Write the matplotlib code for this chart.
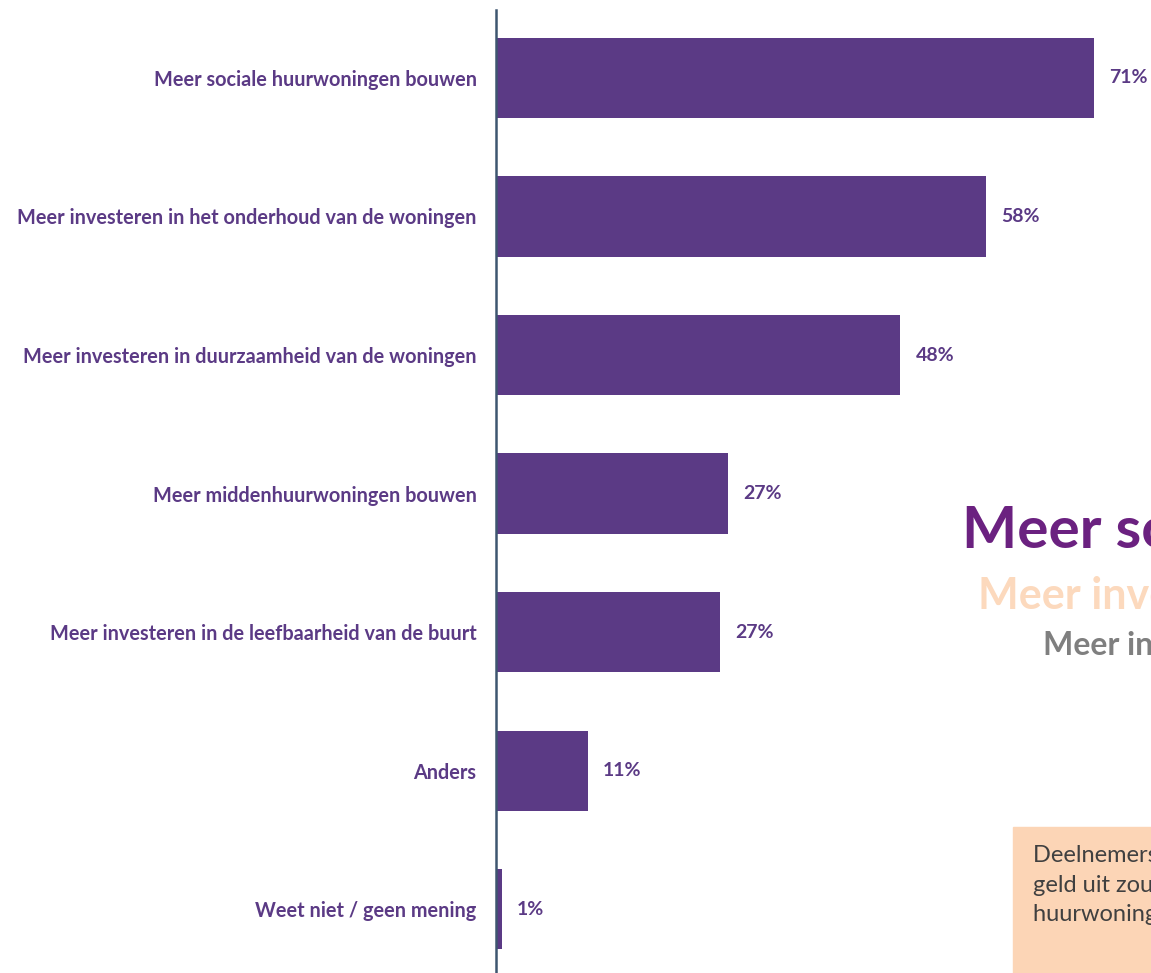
import matplotlib
matplotlib.use("Agg")
import matplotlib.pyplot as plt
from matplotlib.patches import Rectangle

categories = [
    "Meer sociale huurwoningen bouwen",
    "Meer investeren in het onderhoud van de woningen",
    "Meer investeren in duurzaamheid van de woningen",
    "Meer middenhuurwoningen bouwen",
    "Meer investeren in de leefbaarheid van de buurt",
    "Anders",
    "Weet niet / geen mening",
]
values = [71.0, 58.2, 48.0, 27.5, 26.6, 10.9, 0.7]
value_labels = ["71%", "58%", "48%", "27%", "27%", "11%", "1%"]

headline = "Meer sociale huurwoningen bouwen"
second = "Meer investeren in het onderhoud"
third = "Meer investeren in duurzaamheid"
note = ("Deelnemers vinden dat de corporatie het meeste\n"
        "geld uit zou moeten geven aan meer sociale\n"
        "huurwoningen bouwen")

BAR = "#5b3a85"
FONT = ["Lato", "DejaVu Sans"]

plt.rcParams["font.family"] = FONT

fig = plt.figure(figsize=(11.51, 9.73), dpi=100)
ax = fig.add_axes([496 / 1151, 0, 1 - 496 / 1151, 1 - 10 / 973])

pos = list(range(len(categories)))
ax.barh(pos, values, height=0.58, color=BAR, zorder=2)
ax.set_xlim(0, (1151 - 496) / 8.42)
ax.set_ylim(6.46, -0.49)

for s in ["top", "right", "bottom"]:
    ax.spines[s].set_visible(False)
ax.spines["left"].set_color("#3e5670")
ax.spines["left"].set_linewidth(1.8)
ax.set_xticks([])
ax.set_yticks(pos)
ax.set_yticklabels(categories, fontsize=14.3, fontweight="bold", color=BAR)
ax.tick_params(axis="y", length=0, pad=14)

for p, v, lab in zip(pos, values, value_labels):
    ax.annotate(lab, (v, p), xytext=(11, 0), textcoords="offset points",
                ha="left", va="center", fontsize=14, fontweight="bold",
                color=BAR)

# overlay texts that run off the right edge
fig.text(962 / 1151, 1 - 548 / 973, headline, fontsize=42, fontweight="bold",
         color="#6b2180", ha="left", va="baseline")
fig.text(978 / 1151, 1 - 609 / 973, second, fontsize=31, fontweight="bold",
         color="#fcd9bd", ha="left", va="baseline")
fig.text(1043 / 1151, 1 - 655 / 973, third, fontsize=23, fontweight="bold",
         color="#7f7f7f", ha="left", va="baseline")

fig.patches.append(Rectangle((1013 / 1151, 0), 1, 1 - 827 / 973,
                             transform=fig.transFigure, color="#fcd5b6",
                             zorder=0))
fig.text(1033 / 1151, 1 - 845 / 973, note, fontsize=17, color="#404040",
         ha="left", va="top", linespacing=1.5)

fig.savefig("out.png", dpi=100)
